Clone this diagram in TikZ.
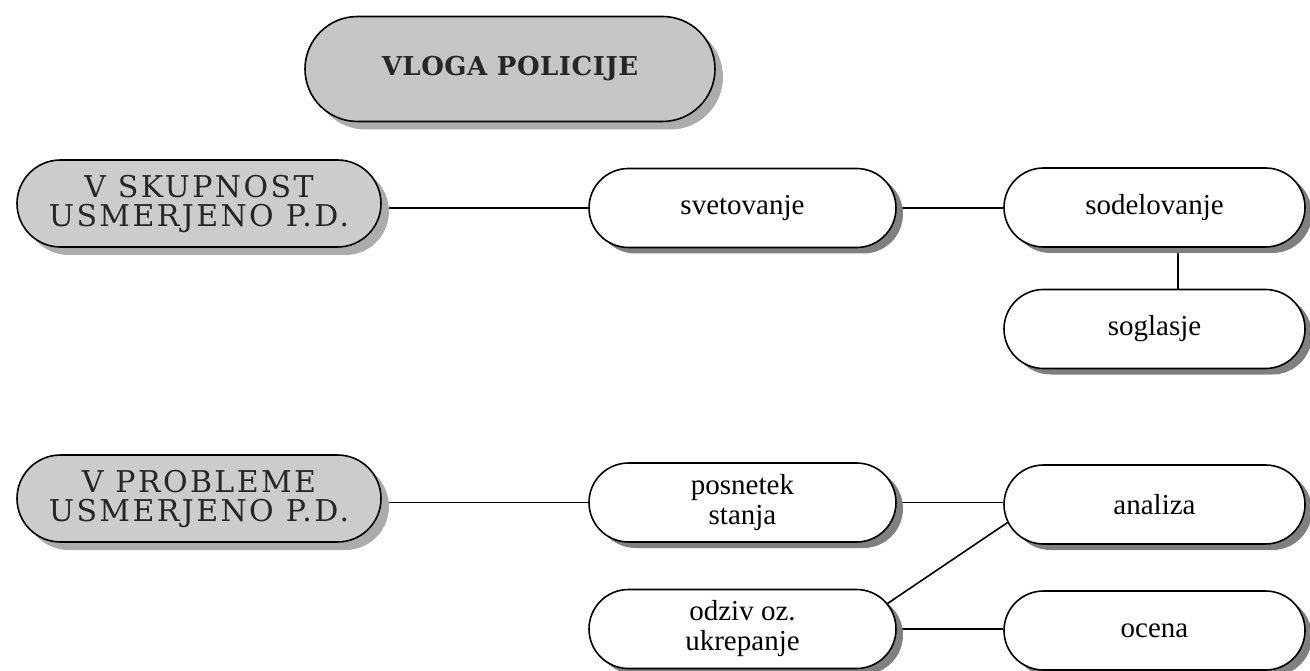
\documentclass[tikz,border=0pt]{standalone}
\usepackage{fontspec}
\setmainfont{Liberation Serif}
\newfontfamily\greyfont[LetterSpace=8]{DejaVu Serif}
\newfontfamily\titlefont[LetterSpace=2]{DejaVu Serif}
\usetikzlibrary{shapes.misc,shadows,backgrounds}
\begin{document}
\begin{tikzpicture}[x=1pt,y=-1pt,
  box/.style={rounded rectangle, draw=black, line width=1.6pt, fill=white,
    minimum width=311pt, minimum height=79pt, inner sep=2pt, align=center,
    font=\fontsize{29}{30}\selectfont,
    drop shadow={shadow xshift=7pt, shadow yshift=-6pt, fill=black!50, opacity=1}},
  rbox/.style={box, minimum width=305pt},
  greybox/.style={rounded rectangle, draw=black, line width=1.6pt, fill=gray!40,
    minimum width=368pt, minimum height=87pt, inner sep=2pt, align=center,
    text=black!85, font=\greyfont\fontsize{30}{29}\selectfont,
    drop shadow={shadow xshift=8pt, shadow yshift=-8pt, fill=gray!65, opacity=1}},
  titlebox/.style={greybox, minimum width=414pt, minimum height=105pt,
    fill=gray!45, font=\titlefont\bfseries\fontsize{26}{30}\selectfont},
  link/.style={line width=1.6pt}]
\useasboundingbox (0,0) rectangle (1310,671);

\node[titlebox] (title) at (510,69) {VLOGA POLICIJE};
\node[greybox] (vsk) at (199,203.5) {V SKUPNOST\\USMERJENO P.D.};
\node[greybox] (vpr) at (199,498.5) {V PROBLEME\\USMERJENO P.D.};

\node[box] (svet) at (742.5,208) {svetovanje};
\node[rbox] (sod) at (1154.5,207.5) {sodelovanje};
\node[rbox] (sog) at (1154.5,329) {soglasje};
\node[box] (pos) at (742.5,502.5) {posnetek\\stanja};
\node[rbox] (ana) at (1154.5,504.5) {analiza};
\node[box] (odz) at (742.5,629) {odziv oz.\\ukrepanje};
\node[rbox] (oce) at (1154.5,630.5) {ocena};

\begin{scope}[on background layer]
  \draw[link] (vsk.east |- svet.west) -- (svet.west);
  \draw[link] (svet.east) -- (sod.west |- svet.east);
  \draw[link] ([xshift=23.5pt]sod.south) -- ([xshift=23.5pt]sog.north);
  \draw[link] (vpr.east |- pos.west) -- (pos.west);
  \draw[link] (pos.east) -- (ana.west |- pos.east);
  \draw[link] (odz.10) -- (ana.187);
  \draw[link] (odz.east) -- (oce.west |- odz.east);
\end{scope}
\end{tikzpicture}
\end{document}
